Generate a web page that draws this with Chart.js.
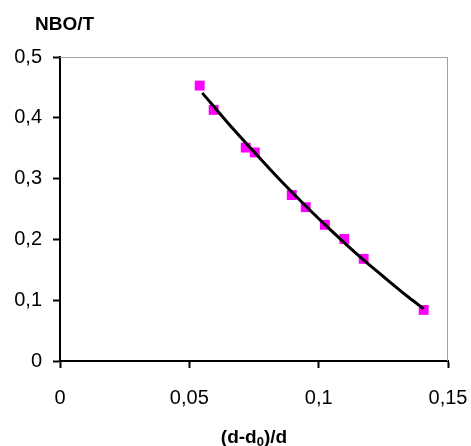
<!DOCTYPE html>
<html>
<head>
<meta charset="utf-8">
<script src="https://cdn.jsdelivr.net/npm/chart.js@4"></script>
<style>
  html, body { margin: 0; padding: 0; background: #fff; }
  #wrap { width: 471px; height: 446px; }
</style>
</head>
<body>
<div id="wrap"><canvas id="nboChart" width="471" height="446"></canvas></div>
<script>
// measured points
const pointX = [0.054, 0.0594, 0.0718, 0.0753, 0.0896, 0.095, 0.1024, 0.1099, 0.1174, 0.1406];
const pointY = [0.453, 0.413, 0.351, 0.343, 0.273, 0.253, 0.224, 0.2007, 0.168, 0.084];

// trend line
const trendX = [0.055, 0.065, 0.075, 0.085, 0.095, 0.105, 0.115, 0.125, 0.135, 0.1406];
const trendY = [0.441, 0.391, 0.344, 0.298, 0.255, 0.214, 0.175, 0.139, 0.104, 0.086];

// tick labels (comma decimals)
const xTickLabels = ['0', '0,05', '0,1', '0,15'];
const yTickLabels = ['0', '0,1', '0,2', '0,3', '0,4', '0,5'];

const yTitle = 'NBO/T';
const xTitle = ['(d-d', '0', ')/d'];

const FONT = 'Arial, "Liberation Sans", sans-serif';

function toXY(xs, ys) {
    return xs.map((x, i) => ({ x: x, y: ys[i] }));
}

// frame on top/right plus the two axis titles
const extras = {
    id: 'extras',
    afterDraw(chart) {
        const c = chart.ctx;
        const a = chart.chartArea;
        c.save();
        c.strokeStyle = '#a0a0a0';
        c.lineWidth = 1;
        c.beginPath();
        c.moveTo(a.left, a.top + 0.5);
        c.lineTo(a.right - 0.5, a.top + 0.5);
        c.lineTo(a.right - 0.5, a.bottom);
        c.stroke();

        c.fillStyle = '#000';
        c.textBaseline = 'alphabetic';
        c.textAlign = 'left';
        c.font = 'bold 19px ' + FONT;
        c.fillText(yTitle, 35, 30);

        // x title with subscript
        const big = 'bold 19px ' + FONT;
        const small = 'bold 13px ' + FONT;
        c.font = big;
        const w1 = c.measureText(xTitle[0]).width;
        const w3 = c.measureText(xTitle[2]).width;
        c.font = small;
        const w2 = c.measureText(xTitle[1]).width;
        let x = 254 - (w1 + w2 + w3) / 2;
        const base = 443;
        c.font = big;
        c.fillText(xTitle[0], x, base);
        x += w1;
        c.font = small;
        c.fillText(xTitle[1], x, base + 3);
        x += w2;
        c.font = big;
        c.fillText(xTitle[2], x, base);
        c.restore();
    }
};

const ctx = document.getElementById('nboChart').getContext('2d');
const nboChart = new Chart(ctx, {
    type: 'scatter',
    data: {
        datasets: [{
            label: 'trend',
            type: 'line',
            data: toXY(trendX, trendY),
            borderColor: '#000',
            borderWidth: 3,
            pointRadius: 0,
            cubicInterpolationMode: 'monotone',
            fill: false,
            order: 0
        }, {
            label: 'NBO/T',
            data: toXY(pointX, pointY),
            pointStyle: 'rect',
            pointRadius: 7,
            pointHoverRadius: 7,
            backgroundColor: '#ff00ff',
            borderWidth: 0,
            order: 1
        }]
    },
    options: {
        responsive: false,
        animation: false,
        layout: { padding: { left: 0, right: 23, top: 57, bottom: 0 } },
        plugins: {
            legend: { display: false },
            tooltip: { enabled: false }
        },
        scales: {
            x: {
                type: 'linear',
                min: 0,
                max: 0.15,
                afterFit(scale) {
                    scale.height = 85;
                    scale.paddingLeft = 0;
                    scale.paddingRight = 0;
                },
                afterBuildTicks(scale) {
                    scale.ticks = xTickLabels.map((_, i) => ({ value: i * 0.05 }));
                },
                ticks: {
                    color: '#000',
                    font: { family: FONT, size: 20 },
                    padding: 18,
                    maxRotation: 0,
                    callback: (v, i) => xTickLabels[i]
                },
                grid: {
                    drawOnChartArea: false,
                    drawTicks: true,
                    tickLength: 7,
                    tickColor: '#000',
                    tickWidth: 2
                },
                border: { color: '#000', width: 2 }
            },
            y: {
                type: 'linear',
                min: 0,
                max: 0.5,
                afterFit(scale) {
                    scale.width = 60;
                    scale.paddingTop = 0;
                    scale.paddingBottom = 0;
                },
                afterBuildTicks(scale) {
                    scale.ticks = yTickLabels.map((_, i) => ({ value: i * 0.1 }));
                },
                ticks: {
                    color: '#000',
                    font: { family: FONT, size: 20 },
                    padding: 11,
                    callback: (v, i) => yTickLabels[i]
                },
                grid: {
                    drawOnChartArea: false,
                    drawTicks: true,
                    tickLength: 7,
                    tickColor: '#000',
                    tickWidth: 2
                },
                border: { color: '#000', width: 2 }
            }
        }
    },
    plugins: [extras]
});
</script>
</body>
</html>
